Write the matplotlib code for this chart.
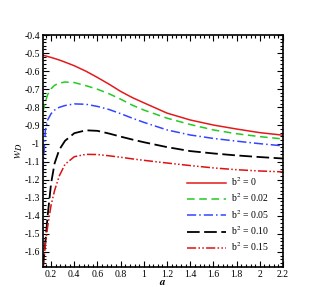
import numpy as np
import matplotlib
matplotlib.use("Agg")
import matplotlib.pyplot as plt
from matplotlib.ticker import AutoMinorLocator

plt.rcParams['font.family'] = ['Liberation Serif', 'DejaVu Serif']
plt.rcParams['mathtext.fontset'] = 'stix'
plt.rcParams['axes.unicode_minus'] = False

# scale factor a (shared by all curves)
a = [0.13, 0.15, 0.17, 0.2, 0.23, 0.27, 0.32, 0.4, 0.5, 0.6,
     0.7, 0.8, 0.9, 1.0, 1.2, 1.4, 1.6, 1.8, 2.0, 2.2]

# w_D for each b^2
w_b000 = [-0.512, -0.515, -0.519, -0.524, -0.530, -0.538, -0.550, -0.570, -0.600, -0.635,
          -0.672, -0.712, -0.746, -0.775, -0.832, -0.870, -0.898, -0.920, -0.940, -0.954]
w_b002 = [-0.825, -0.770, -0.730, -0.697, -0.678, -0.666, -0.660, -0.663, -0.680, -0.700,
          -0.725, -0.755, -0.788, -0.815, -0.860, -0.895, -0.925, -0.946, -0.962, -0.975]
w_b005 = [-1.150, -0.930, -0.870, -0.835, -0.815, -0.800, -0.790, -0.781, -0.783, -0.795,
          -0.812, -0.835, -0.860, -0.883, -0.925, -0.953, -0.972, -0.987, -1.001, -1.013]
w_b010 = [-1.680, -1.550, -1.400, -1.220, -1.110, -1.035, -0.985, -0.943, -0.927, -0.930,
          -0.945, -0.962, -0.978, -0.993, -1.020, -1.042, -1.055, -1.066, -1.075, -1.083]
w_b015 = [-1.700, -1.560, -1.460, -1.340, -1.260, -1.180, -1.115, -1.073, -1.060, -1.061,
          -1.068, -1.076, -1.085, -1.093, -1.108, -1.122, -1.135, -1.145, -1.152, -1.157]

labels = ['b$^{2}$ = 0', 'b$^{2}$ = 0.02', 'b$^{2}$ = 0.05', 'b$^{2}$ = 0.10', 'b$^{2}$ = 0.15']

fig = plt.figure(figsize=(3.22, 2.87), dpi=100)
ax = fig.add_axes([0.1335, 0.0697, 0.7455, 0.8083])

ax.plot(a, w_b000, color='#e31a1c', lw=1.1, ls='-', label=labels[0])
ax.plot(a, w_b002, color='#22cc22', lw=1.1, ls=(0, (5, 3)), label=labels[1])
ax.plot(a, w_b005, color='#3344ff', lw=1.1, ls=(0, (6, 2, 1, 2)), label=labels[2])
ax.plot(a, w_b010, color='black', lw=1.3, ls=(0, (7, 2.5)), label=labels[3])
ax.plot(a, w_b015, color='#dd1111', lw=1.1, ls=(0, (6, 1.5, 1, 1.5, 1, 1.5)), label=labels[4])

ax.set_xlim(0.13, 2.2)
ax.set_ylim(-1.683, -0.4)
ax.set_xticks(np.arange(0.2, 2.21, 0.2))
ax.set_xticklabels(['0.2', '0.4', '0.6', '0.8', '1', '1.2', '1.4', '1.6', '1.8', '2', '2.2'])
ax.set_yticks(np.arange(-1.6, -0.39, 0.1))
ax.set_yticklabels(['-1.6', '-1.5', '-1.4', '-1.3', '-1.2', '-1.1', '-1',
                    '-0.9', '-0.8', '-0.7', '-0.6', '-0.5', '-0.4'])
ax.xaxis.set_minor_locator(AutoMinorLocator(5))
ax.yaxis.set_minor_locator(AutoMinorLocator(5))

ax.tick_params(which='both', direction='in', top=True, right=True, labelsize=7, width=0.8)
ax.tick_params(which='major', length=4, pad=2)
ax.tick_params(which='minor', length=2)
for s in ax.spines.values():
    s.set_linewidth(1.2)

ax.set_xlabel('$\\boldsymbol{a}$', fontsize=8)
ax.xaxis.label.set_va('center')
ax.xaxis.set_label_coords(0.5, -0.068)
ax.set_ylabel('$w_D$', fontsize=9)
ax.yaxis.set_label_coords(-0.075, 0.5)

ax.legend(loc='lower right', frameon=False, fontsize=7, handlelength=4.0,
          labelspacing=0.35, handletextpad=0.6, borderaxespad=1.0)

fig.savefig('out.png', dpi=100)
